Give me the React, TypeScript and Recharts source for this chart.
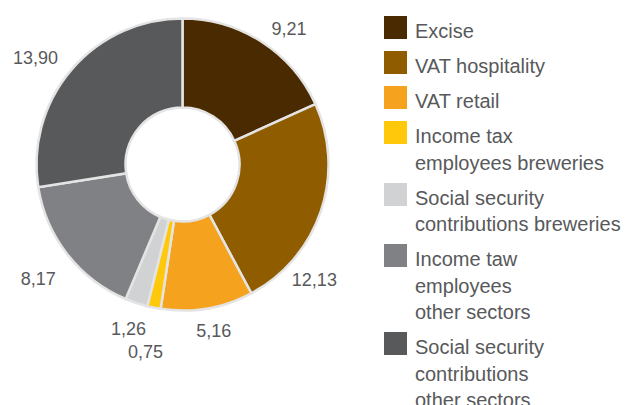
import React from 'react';
import { PieChart, Pie, Cell, Legend } from 'recharts';

const categories = [
  'Excise',
  'VAT hospitality',
  'VAT retail',
  'Income tax\nemployees breweries',
  'Social security\ncontributions breweries',
  'Income taw\nemployees\nother sectors',
  'Social security\ncontributions\nother sectors',
];
const values = [9.21, 12.13, 5.16, 0.75, 1.26, 8.17, 13.9];
const valueLabels = ['9,21', '12,13', '5,16', '0,75', '1,26', '8,17', '13,90'];
const colors = ['#4a2a00', '#8f5c00', '#f5a31f', '#ffc80b', '#d1d2d4', '#808184', '#58595b'];

// label placement tweaks (degrees / px beyond outer radius)
const labelShift = [5, 22, -1, 0, 0, 0, -4];
const labelGap = [28, 28, 21, 43, 25, 37, 37];

const chartData = categories.map((name, i) => ({ name, value: values[i] }));

const TEXT = '#58595b';
const FONT = '"Liberation Sans", Arial, Helvetica, sans-serif';

const renderLabel = (props: any) => {
  const { cx, cy, midAngle, outerRadius, index } = props;
  const deg = 90 - midAngle + labelShift[index];
  const rad = (deg * Math.PI) / 180;
  const r = outerRadius + labelGap[index];
  const x = cx + r * Math.sin(rad);
  const y = cy - r * Math.cos(rad) + 2;
  return (
    <text x={x} y={y} textAnchor="middle" dominantBaseline="central" fill={TEXT} fontSize={18} fontFamily={FONT}>
      {valueLabels[index]}
    </text>
  );
};

// legend in data order (recharts would sort it by name otherwise)
const LegendContent = () => (
  <div style={{ fontFamily: FONT, fontSize: 20, color: TEXT }}>
    {categories.map((name, i) => (
      <div key={i} style={{ display: 'flex', alignItems: 'flex-start', marginBottom: 8.5 }}>
        <div style={{ width: 23, height: 23, background: colors[i], marginRight: 8, flexShrink: 0 }} />
        <div style={{ lineHeight: '26.5px', marginTop: 2, marginBottom: -2, whiteSpace: 'nowrap' }}>
          {name.split('\n').map((line, j) => (
            <div key={j}>{line}</div>
          ))}
        </div>
      </div>
    ))}
  </div>
);

export default function App() {
  return (
    <div style={{ position: 'absolute', left: 0, top: 0, width: 628, height: 405, background: '#fff' }}>
      <PieChart width={628} height={405}>
        <Pie
          data={chartData}
          dataKey="value"
          nameKey="name"
          cx={177.5}
          cy={159.5}
          innerRadius={57}
          outerRadius={146}
          startAngle={90}
          endAngle={-270}
          stroke="#e4e4e4"
          strokeWidth={2.5}
          label={renderLabel}
          labelLine={false}
          isAnimationActive={false}
        >
          {chartData.map((entry, index) => (
            <Cell key={`cell-${index}`} fill={colors[index]} />
          ))}
        </Pie>
        <Legend
          layout="vertical"
          verticalAlign="top"
          align="right"
          content={<LegendContent />}
          wrapperStyle={{ left: 384, top: 16, right: 'auto', width: 244 }}
        />
      </PieChart>
    </div>
  );
}
